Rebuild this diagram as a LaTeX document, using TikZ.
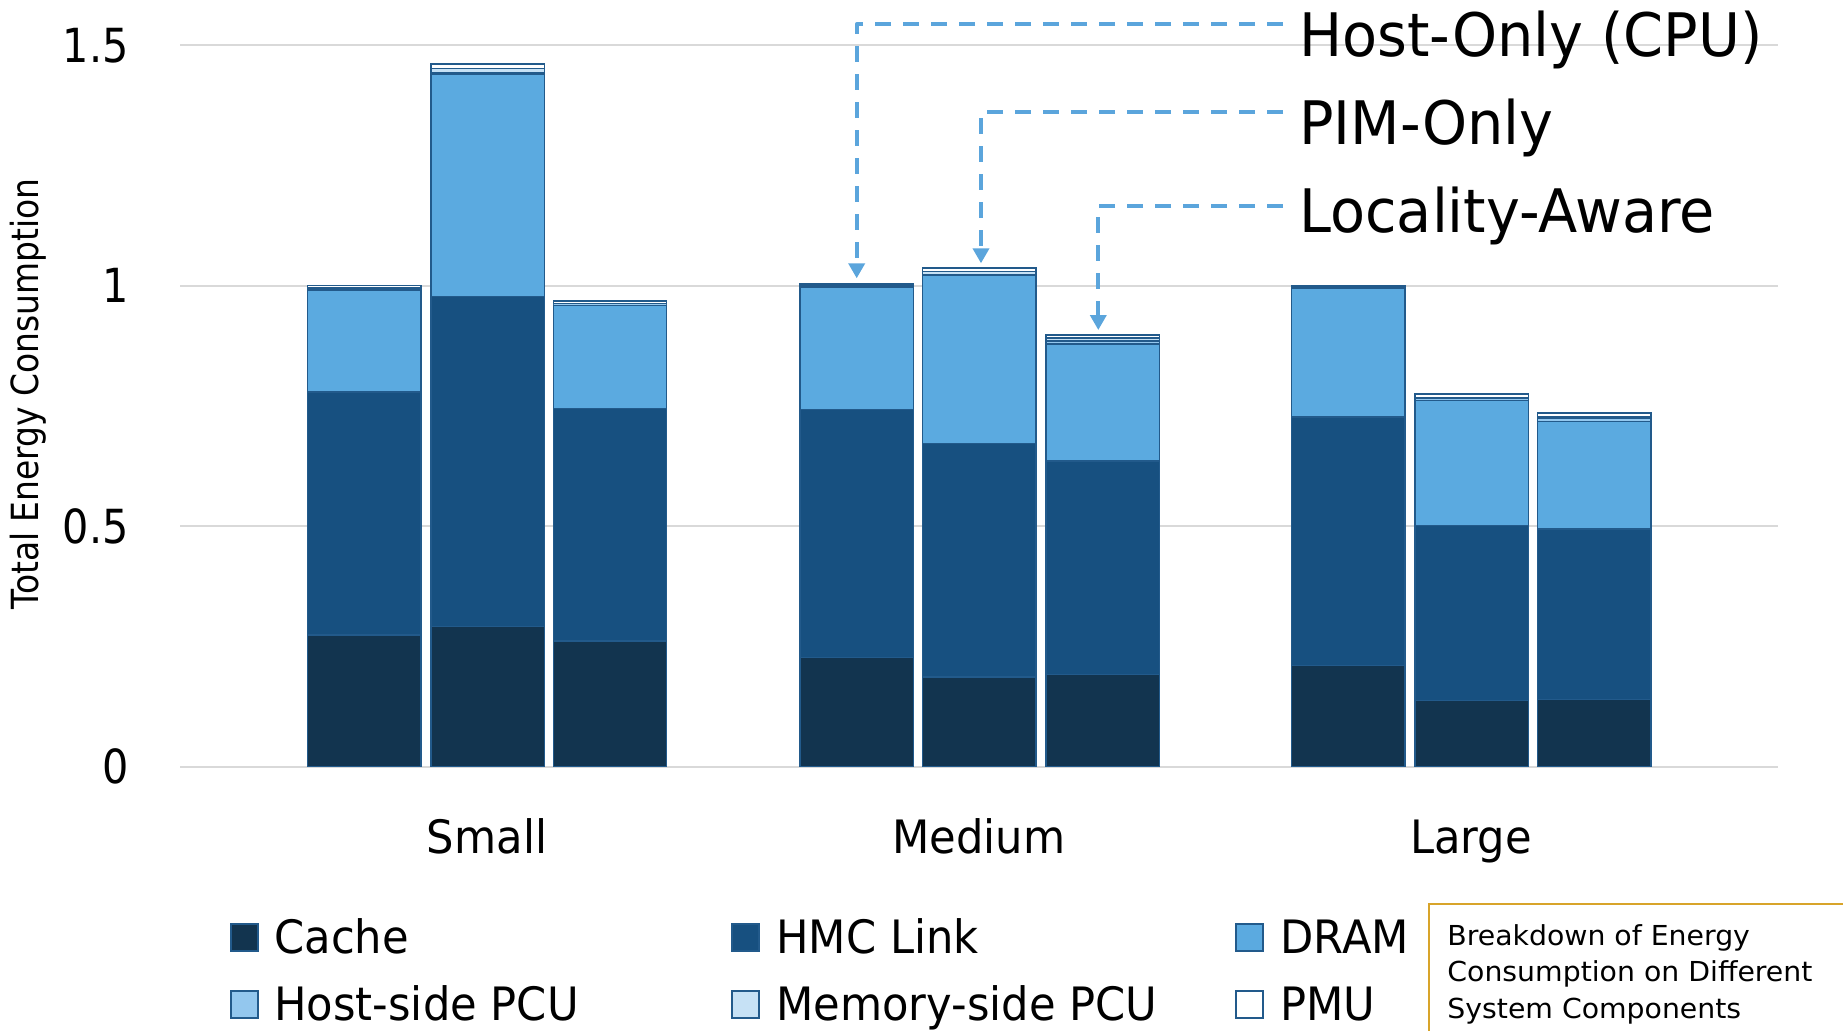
\documentclass[tikz,border=0pt]{standalone}
\usepackage{fontspec}
\setmainfont{DejaVu Sans}[FakeStretch=0.88]
\newfontfamily\legfont{DejaVu Sans}[FakeStretch=0.94]
\newfontfamily\calloutfont{DejaVu Sans}[FakeStretch=0.955]
\newfontfamily\notefont{DejaVu Sans}[FakeStretch=1.03]
\usetikzlibrary{arrows.meta}

\definecolor{cCache}{HTML}{12344F}
\definecolor{cHMC}{HTML}{175080}
\definecolor{cDRAM}{HTML}{5BAAE0}
\definecolor{cHost}{HTML}{93C7EE}
\definecolor{cMem}{HTML}{C6E1F5}
\definecolor{cPMU}{HTML}{FFFFFF}
\definecolor{cEdge}{HTML}{225A8B}
\definecolor{cGrid}{HTML}{D9D9D9}
\definecolor{cCall}{HTML}{5BA5DC}
\definecolor{cGold}{HTML}{D8A42A}

% value -> vertical position (pixel grid, y grows downwards)
\newcommand\V[1]{766.5-480.8*(#1)}

% stacked bar: left x, then Cache, HMC Link, DRAM, Host-side PCU, Memory-side PCU, PMU
\newcommand\stackbar[7]{%
  \pgfmathsetmacro\ya{#2}%
  \pgfmathsetmacro\yb{\ya+#3}%
  \pgfmathsetmacro\yc{\yb+#4}%
  \pgfmathsetmacro\yd{\yc+#5}%
  \pgfmathsetmacro\ye{\yd+#6}%
  \pgfmathsetmacro\yf{\ye+#7}%
  \draw[seg,fill=cCache] (#1,{\V{0}}) rectangle ({#1+113.3},{\V{\ya}});
  \draw[seg,fill=cHMC]   (#1,{\V{\ya}}) rectangle ({#1+113.3},{\V{\yb}});
  \draw[seg,fill=cDRAM]  (#1,{\V{\yb}}) rectangle ({#1+113.3},{\V{\yc}});
  \draw[seg,fill=cHost]  (#1,{\V{\yc}}) rectangle ({#1+113.3},{\V{\yd}});
  \draw[seg,fill=cMem]   (#1,{\V{\yd}}) rectangle ({#1+113.3},{\V{\ye}});
  \draw[seg,fill=cPMU]   (#1,{\V{\ye}}) rectangle ({#1+113.3},{\V{\yf}});
}

\tikzset{
  gridline/.style={draw=cGrid, line width=1pt},
  seg/.style={draw=cEdge, line width=0.75pt},
  ticklabel/.style={font=\fontsize{23.5pt}{28pt}\selectfont, anchor=base east, inner sep=0},
  catlabel/.style={font=\legfont\fontsize{23pt}{28pt}\selectfont, anchor=base, inner sep=0},
  legtext/.style={font=\legfont\fontsize{23pt}{28pt}\selectfont, anchor=base west, inner sep=0},
  legbox/.style={draw=cEdge, line width=0.75pt, minimum width=13.5pt, minimum height=13.5pt, inner sep=0, anchor=north west},
  calloutlabel/.style={font=\calloutfont\fontsize{30pt}{36pt}\selectfont, anchor=base west, inner sep=0},
  callout/.style={draw=cCall, line width=1.85pt, dash pattern=on 8pt off 6pt, line join=round,
    -{Triangle[width=8pt,length=7.5pt,fill=cCall]}},
  note/.style={font=\notefont\fontsize{13.75pt}{18.35pt}\selectfont, anchor=base west, inner sep=0},
}

\begin{document}
\begin{tikzpicture}[x=0.5pt,y=-0.5pt]
\useasboundingbox (0,0) rectangle (1843,1030);
\clip (0,0) rectangle (1843,1030);

% horizontal gridlines
\foreach \v in {0,0.5,1,1.5}
  \draw[gridline] (180,{\V{\v}}) -- (1778,{\V{\v}});

% axis tick labels
\node[ticklabel] (t15) at (129,62) {1.5};
\node[ticklabel] (t10) at (129,302.7) {1};
\node[ticklabel] (t05) at (129,543) {0.5};
\node[ticklabel] (t00) at (129,783.5) {0};

% axis title
\node[font=\fontsize{18.7pt}{22pt}\selectfont, rotate=90, inner sep=0] (ylab) at (28,394) {Total Energy Consumption};

% Small
\stackbar{307.7}{0.274}{0.505}{0.212}{0.004}{0}{0.005}
\stackbar{431.0}{0.291}{0.687}{0.462}{0.002}{0.010}{0.009}
\stackbar{553.3}{0.261}{0.484}{0.214}{0.004}{0}{0.005}
% Medium
\stackbar{800.0}{0.227}{0.516}{0.254}{0.004}{0}{0.003}
\stackbar{922.7}{0.186}{0.486}{0.349}{0.001}{0.008}{0.007}
\stackbar{1046.0}{0.191}{0.444}{0.244}{0.006}{0.006}{0.006}
% Large
\stackbar{1291.7}{0.210}{0.517}{0.267}{0.003}{0}{0.003}
\stackbar{1415.0}{0.137}{0.364}{0.260}{0.004}{0.003}{0.007}
\stackbar{1537.7}{0.139}{0.355}{0.224}{0.007}{0.003}{0.007}

% category labels
\node[catlabel] (cSmall)  at (487,853) {Small};
\node[catlabel] (cMedium) at (979,853) {Medium};
\node[catlabel] (cLarge)  at (1471,853) {Large};

% callout labels and their dashed pointers
\node[calloutlabel] (lHost) at (1299,56) {Host-Only (CPU)};
\node[calloutlabel] (lPIM)  at (1299,144) {PIM-Only};
\node[calloutlabel] (lLoc)  at (1299,232) {Locality-Aware};

\coordinate (eHost) at (1283,24.3);
\coordinate (ePIM)  at (1283,112.3);
\coordinate (eLoc)  at (1283,205.7);
\coordinate (aHost) at (856.7,278.3);
\coordinate (aPIM)  at (981,263.3);
\coordinate (aLoc)  at (1098.3,330);

\draw[callout] (eHost) -| (aHost);
\draw[callout] (ePIM)  -| (aPIM);
\draw[callout] (eLoc)  -| (aLoc);

% legend
\node[legbox, fill=cCache] (kCache) at (230.4,923) {};
\node[legtext] (tCache) at (274,953) {Cache};
\node[legbox, fill=cHMC] (kHMC) at (731,923) {};
\node[legtext] (tHMC) at (776,953) {HMC Link};
\node[legbox, fill=cDRAM] (kDRAM) at (1235,923) {};
\node[legtext] (tDRAM) at (1280,953) {DRAM};
\node[legbox, fill=cHost] (kHost) at (230.4,990) {};
\node[legtext] (tHost) at (274,1020) {Host-side PCU};
\node[legbox, fill=cMem] (kMem) at (731,990) {};
\node[legtext] (tMem) at (776,1020) {Memory-side PCU};
\node[legbox, fill=cPMU] (kPMU) at (1235,990) {};
\node[legtext] (tPMU) at (1280,1020) {PMU};

% caption box
\draw[draw=cGold, line width=1pt, fill=white] (1429,904) rectangle (1900,1100);
\node[note] (n1) at (1447,945) {Breakdown of Energy};
\node[note] (n2) at (1447,981.7) {Consumption on Different};
\node[note] (n3) at (1447,1018) {System Components};
\end{tikzpicture}
\end{document}
